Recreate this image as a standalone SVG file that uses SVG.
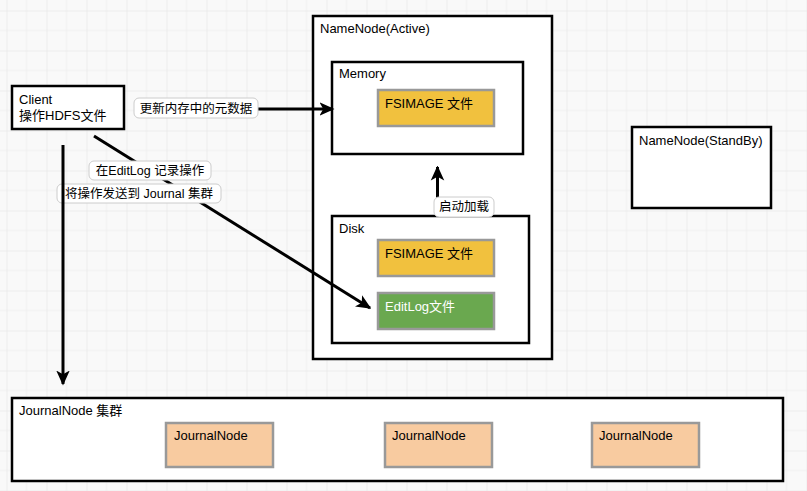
<svg xmlns="http://www.w3.org/2000/svg" width="807" height="491" viewBox="0 0 807 491">
<defs>
<pattern id="grid" x="6.5" y="10.5" width="40" height="40" patternUnits="userSpaceOnUse">
<rect width="40" height="40" fill="#f9f9f9"/>
<path d="M20 0V40M0 20H40" stroke="#efefef" stroke-width="1"/>
<path d="M0 0V40M0 0H40" stroke="#ececec" stroke-width="2"/>
</pattern>
<marker id="arr" viewBox="0 0 10 10" refX="9" refY="5" markerWidth="5" markerHeight="5" orient="auto" markerUnits="strokeWidth">
<path d="M0 0.5L10 5L0 9.5L2.5 5Z" fill="#000"/>
</marker>
<style>
text{font-family:"Liberation Sans","Noto Sans CJK SC",sans-serif;font-size:13px;fill:#000}
.lt{font-size:12.5px;text-anchor:middle}
.box{fill:#fff;stroke:#000;stroke-width:2.5}
.yel{fill:#f1c13e;stroke:#999;stroke-width:2.5}
.grn{fill:#6aa84f;stroke:#999;stroke-width:2.5}
.pch{fill:#f8cba0;stroke:#999;stroke-width:2.5}
.edge{stroke:#000;stroke-width:3;fill:none;marker-end:url(#arr)}
.lbl{fill:#fff;stroke:#ccc;stroke-width:1}
</style>
</defs>
<rect width="807" height="491" fill="url(#grid)"/>

<g id="journal-cluster">
<rect class="box" x="12" y="398" width="771" height="83"/>
<text x="19" y="415">JournalNode 集群</text>
</g>
<g id="jn1"><rect class="pch" x="166" y="423" width="107" height="44"/><text x="174" y="440">JournalNode</text></g>
<g id="jn2"><rect class="pch" x="385" y="423" width="107" height="44"/><text x="392" y="440">JournalNode</text></g>
<g id="jn3"><rect class="pch" x="592" y="423" width="107" height="44"/><text x="599" y="440">JournalNode</text></g>

<g id="namenode-active">
<rect class="box" x="313" y="16" width="239" height="343"/>
<text x="320" y="33">NameNode(Active)</text>
</g>
<g id="memory">
<rect class="box" x="332" y="62" width="191" height="92"/>
<text x="339" y="78">Memory</text>
</g>
<g id="fsimage-mem"><rect class="yel" x="378" y="90" width="116" height="36"/><text x="385" y="108">FSIMAGE 文件</text></g>
<g id="disk">
<rect class="box" x="332" y="216" width="197" height="127"/>
<text x="339" y="233">Disk</text>
</g>
<g id="fsimage-disk"><rect class="yel" x="378" y="240" width="116" height="36"/><text x="385" y="258">FSIMAGE 文件</text></g>
<g id="editlog"><rect class="grn" x="378" y="293" width="116" height="36"/><text x="385" y="311" style="fill:#fff">EditLog文件</text></g>

<g id="namenode-standby">
<rect class="box" x="632" y="127" width="139" height="81"/>
<text x="639" y="145">NameNode(StandBy)</text>
</g>

<g id="client">
<rect class="box" x="12" y="86" width="112" height="43"/>
<text x="19" y="104">Client</text>
<text x="19" y="120">操作HDFS文件</text>
</g>

<g id="connectors">
<line class="edge" x1="135" y1="109" x2="333" y2="109"/>
<rect class="lbl" x="134" y="98" width="124" height="20" rx="5"/>
<text class="lt" x="196" y="113">更新内存中的元数据</text>

<line class="edge" x1="94" y1="136" x2="370" y2="308"/>
<rect class="lbl" x="89" y="161" width="122" height="19" rx="5"/>
<text class="lt" x="150" y="175">在EditLog 记录操作</text>
<rect class="lbl" x="57" y="184" width="164" height="19" rx="5"/>
<text class="lt" x="139" y="198">将操作发送到 Journal 集群</text>

<line class="edge" x1="63" y1="145" x2="63" y2="384"/>

<line class="edge" x1="437.5" y1="216" x2="437.5" y2="167"/>
<rect class="lbl" x="434" y="197" width="60" height="20" rx="5"/>
<text class="lt" x="464" y="211">启动加载</text>
</g>
</svg>
